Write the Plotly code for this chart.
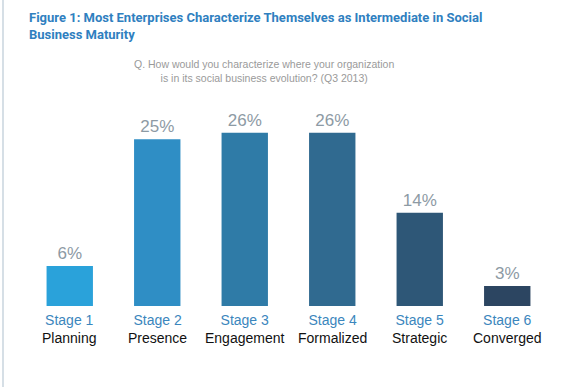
import plotly.graph_objects as go

stages = ["Stage 1", "Stage 2", "Stage 3", "Stage 4", "Stage 5", "Stage 6"]
names = ["Planning", "Presence", "Engagement", "Formalized", "Strategic", "Converged"]
values = [6, 25, 26, 26, 14, 3]
colors = ["#2aa2da", "#2f8ec5", "#2f7ba7", "#306a90", "#2e5777", "#2c4561"]

W, H = 571, 387
ml, mr, mt, mb = 26, 20, 106, 81

fig = go.Figure()
fig.add_trace(go.Bar(
    x=stages, y=values,
    marker=dict(color=colors, line=dict(width=0)),
    text=[f"{v}%" for v in values],
    textposition="outside",
    textfont=dict(family="Liberation Sans, Arial, sans-serif", size=17, color="#8d9aa4"),
    cliponaxis=False,
    hoverinfo="skip",
))

annotations = []
for s, n in zip(stages, names):
    annotations.append(dict(
        x=s, y=0, xref="x", yref="y", yanchor="top", yshift=-4,
        text=f"<span style='color:#3b86bd'>{s}</span><br><span style='color:#111111'>{n}</span>",
        showarrow=False, align="center",
        font=dict(family="Liberation Sans, Arial, sans-serif", size=14),
    ))

annotations.append(dict(
    xref="paper", yref="paper",
    x=(27 - ml) / (W - ml - mr), y=1 + (mt - 8) / (H - mt - mb),
    xanchor="left", yanchor="top", align="left", showarrow=False,
    text="<b>Figure 1: Most Enterprises Characterize Themselves as Intermediate in Social<br>Business Maturity</b>",
    font=dict(family="Roboto, Liberation Sans, Arial, sans-serif", size=13, color="#2f80c0"),
))
annotations.append(dict(
    xref="paper", yref="paper",
    x=(264 - ml) / (W - ml - mr), y=1 + (mt - 56) / (H - mt - mb),
    xanchor="center", yanchor="top", align="center", showarrow=False,
    text="Q. How would you characterize where your organization<br>is in its social business evolution? (Q3 2013)",
    font=dict(family="Liberation Sans, Arial, sans-serif", size=10.5, color="#9a9a9a"),
))

fig.update_layout(
    width=W, height=H,
    margin=dict(l=ml, r=mr, t=mt, b=mb, pad=0),
    paper_bgcolor="white", plot_bgcolor="white",
    showlegend=False,
    bargap=0.47,
    xaxis=dict(range=[-0.5, 5.5], showticklabels=False, showgrid=False, zeroline=False, showline=False, ticks=""),
    yaxis=dict(range=[0, 30], visible=False, showgrid=False, zeroline=False),
    annotations=annotations,
    shapes=[dict(type="line", xref="paper", yref="paper",
                 x0=(3 - ml) / (W - ml - mr), x1=(3 - ml) / (W - ml - mr),
                 y0=-mb / (H - mt - mb), y1=1 + mt / (H - mt - mb),
                 line=dict(color="#c9d5de", width=1.5))],
)

fig.write_html("out.html", config={"displayModeBar": False, "staticPlot": True},
               post_script="document.body.style.margin='0px';document.body.style.overflow='hidden';")
